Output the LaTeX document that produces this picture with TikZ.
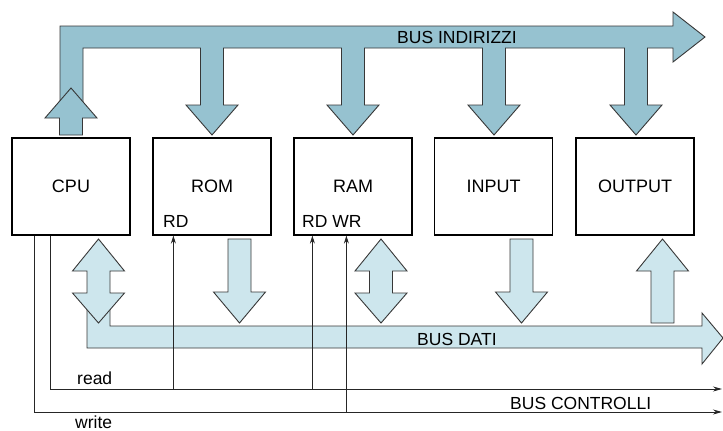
\documentclass[tikz,border=0pt]{standalone}
\usepackage{fontspec}
\setmainfont{Liberation Sans}
\usetikzlibrary{arrows.meta,calc}
\definecolor{addrblue}{RGB}{150,194,208}
\definecolor{datablue}{RGB}{205,230,237}
\definecolor{edge}{RGB}{55,55,55}
\tikzset{
  unitbox/.style={draw=black,line width=1.2pt,minimum width=118pt,minimum height=97pt,inner sep=0pt,font=\fontsize{18}{20}\selectfont},
  addrbus/.style={fill=addrblue,draw=edge,line width=0.9pt,line join=miter},
  databus/.style={fill=datablue,draw=edge,line width=0.9pt,line join=miter},
  lbl/.style={inner sep=0pt,anchor=base west,font=\fontsize{17.5}{20}\selectfont},
  ctrl/.style={draw=black!85,line width=0.8pt},
  ctrlarrow/.style={ctrl,-{Stealth[length=9pt,width=5pt]}},
  rdarrow/.style={ctrl,-{Stealth[length=8pt,width=5pt]}}
}
\begin{document}
\begin{tikzpicture}[x=1pt,y=-1pt]
\useasboundingbox (0,0) rectangle (723,431);

% boxes
\node[unitbox] (cpu) at (71,186.5) {CPU};
\node[unitbox] (rom) at (212,186.5) {ROM};
\node[unitbox] (ram) at (353,186.5) {RAM};
\node[unitbox] (input) at (493.5,186.5) {INPUT};
\node[unitbox] (output) at (635,186.5) {OUTPUT};

% address bus
\path[addrbus] (60,110) -- (60,26) -- (673,26) -- (673,12) -- (705,37) -- (673,62) -- (673,48)
  -- (647.5,48) -- (647.5,105) -- (662,105) -- (636,135) -- (610,105) -- (624.5,105) -- (624.5,48)
  -- (505.5,48) -- (505.5,105) -- (520,105) -- (494,135) -- (468,105) -- (482.5,105) -- (482.5,48)
  -- (364.5,48) -- (364.5,105) -- (379,105) -- (353,135) -- (327,105) -- (341.5,105) -- (341.5,48)
  -- (223.5,48) -- (223.5,105) -- (238,105) -- (212,135) -- (186,105) -- (200.5,105) -- (200.5,48)
  -- (83,48) -- (83,110) -- cycle;
% CPU up arrow into address bus
\path[addrbus] (59.5,135) -- (59.5,118) -- (45,118) -- (71,88) -- (97,118) -- (82.5,118) -- (82.5,135) -- cycle;
\node[lbl] (busind) at (397,43) {BUS INDIRIZZI};

% data bus
\path[databus] (87,300) -- (87,348) -- (702,348) -- (702,364) -- (723,338) -- (702,313) -- (702,326)
  -- (110,326) -- (110,300) -- cycle;
% CPU double arrow
\path[databus] (98.5,239) -- (124.5,271) -- (110,271) -- (110,293) -- (124.5,293) -- (98.5,323)
  -- (72.5,293) -- (87,293) -- (87,271) -- (72.5,271) -- cycle;
% ROM down arrow
\path[databus] (228,239) -- (251,239) -- (251,292) -- (265.5,292) -- (239.5,323) -- (213.5,292) -- (228,292) -- cycle;
% RAM double arrow
\path[databus] (381,239) -- (407,271) -- (392.5,271) -- (392.5,293) -- (407,293) -- (381,323)
  -- (355,293) -- (369.5,293) -- (369.5,271) -- (355,271) -- cycle;
% INPUT down arrow
\path[databus] (510,239) -- (533,239) -- (533,292) -- (547.5,292) -- (521.5,323) -- (495.5,292) -- (510,292) -- cycle;
% OUTPUT up arrow
\path[databus] (651,323) -- (651,271) -- (636.5,271) -- (662.5,239) -- (688.5,271) -- (674,271) -- (674,323) -- cycle;
\node[lbl] (busdati) at (417,345) {BUS DATI};

% control bus
\coordinate (cpuw) at ($(cpu.south west)+(23,0)$);
\coordinate (cpur) at ($(cpu.south west)+(39,0)$);
\coordinate (readend) at (722,389);
\coordinate (writeend) at (722,412);
\coordinate (romrd) at ($(rom.south west)+(21,0)$);
\coordinate (ramrd) at ($(ram.south west)+(19,0)$);
\coordinate (ramwr) at ($(ram.south west)+(53,0)$);
\draw[ctrlarrow] (cpur) |- (readend);
\draw[ctrlarrow] (cpuw) |- (writeend);
\draw[rdarrow] (romrd |- readend) -- (romrd);
\draw[rdarrow] (ramrd |- readend) -- (ramrd);
\draw[rdarrow] (ramwr |- writeend) -- (ramwr);

\node[lbl] (rdrom) at (163,227) {RD};
\node[lbl] (rdwrram) at (302,227) {RD WR};
\node[lbl] (readlbl) at (77,384) {read};
\node[lbl] (writelbl) at (75,428) {write};
\node[lbl] (busctrl) at (510,409) {BUS CONTROLLI};
\end{tikzpicture}
\end{document}
